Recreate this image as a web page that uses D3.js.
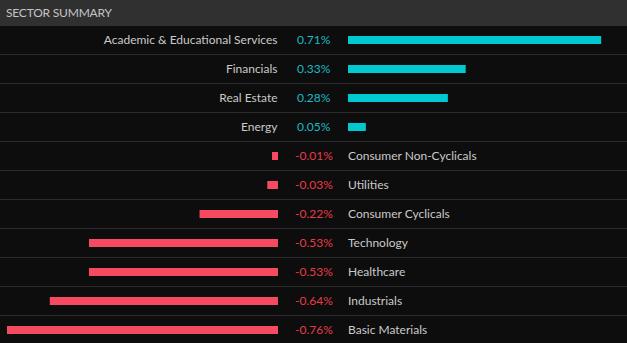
<!DOCTYPE html>
<html><head><meta charset="utf-8">
<script src="https://cdn.jsdelivr.net/npm/d3@7"></script>
<style>
html,body{margin:0;padding:0;background:#0d0d0d;}
svg{display:block;}
</style></head><body>
<svg id="c" width="627" height="343"></svg>
<script>
const title = "SECTOR SUMMARY";
const categories = ["Academic & Educational Services","Financials","Real Estate","Energy","Consumer Non-Cyclicals","Utilities","Consumer Cyclicals","Technology","Healthcare","Industrials","Basic Materials"];
const values = [0.71,0.33,0.28,0.05,-0.01,-0.03,-0.22,-0.53,-0.53,-0.64,-0.76];
const valueLabels = ["0.71%","0.33%","0.28%","0.05%","-0.01%","-0.03%","-0.22%","-0.53%","-0.53%","-0.64%","-0.76%"];

const W = 627, H = 343, headerH = 26;
const svg = d3.select("#c");
const font = "Lato, 'Open Sans', sans-serif";

svg.append("rect").attr("x",0).attr("y",0).attr("width",W).attr("height",H).attr("fill","#0d0d0d");
svg.append("rect").attr("x",0).attr("y",0).attr("width",W).attr("height",headerH).attr("fill","#303030");
svg.append("text").attr("x",6).attr("y",16.5).text(title)
  .attr("fill","#c4c4c4").attr("font-family",font).attr("font-size","12px").attr("letter-spacing","-0.2px");

const y = d3.scaleBand().domain(categories).range([25, 25 + 29*categories.length]).paddingInner(0).paddingOuter(0);
const mag = d3.scaleLinear().domain([0, 0.76]).range([0, 271]);
const posZero = 348, negZero = 278;

const rows = svg.append("g").selectAll("g").data(categories).join("g");
rows.filter((d,i)=>i>0).append("line")
  .attr("x1",0).attr("x2",W)
  .attr("y1",d=>y(d)+0.5).attr("y2",d=>y(d)+0.5)
  .attr("stroke","#2b2b2b").attr("stroke-width",1);

const teal = "#00c9d1", tealText = "#1bbac4", red = "#f64a60", redText = "#ea3b48", lab = "#cacaca";

rows.append("rect")
  .attr("x",(d,i)=> values[i] >= 0 ? posZero : negZero - Math.max(6, mag(-values[i])))
  .attr("width",(d,i)=> values[i] >= 0 ? mag(values[i]) : Math.max(6, mag(-values[i])))
  .attr("y",d=>y(d)+11).attr("height",8)
  .attr("fill",(d,i)=> values[i] >= 0 ? teal : red);

rows.append("text")
  .attr("x",(d,i)=> values[i] >= 0 ? 297 : 295)
  .attr("y",d=>y(d)+19)
  .attr("fill",(d,i)=> values[i] >= 0 ? tealText : redText)
  .attr("font-family",font).attr("font-size","12px")
  .text((d,i)=>valueLabels[i]);

rows.append("text")
  .attr("x",(d,i)=> values[i] >= 0 ? 277.5 : 348)
  .attr("text-anchor",(d,i)=> values[i] >= 0 ? "end" : "start")
  .attr("y",d=>y(d)+19)
  .attr("fill",lab)
  .attr("font-family",font).attr("font-size","12px")
  .text(d=>d);
</script>
</body></html>
